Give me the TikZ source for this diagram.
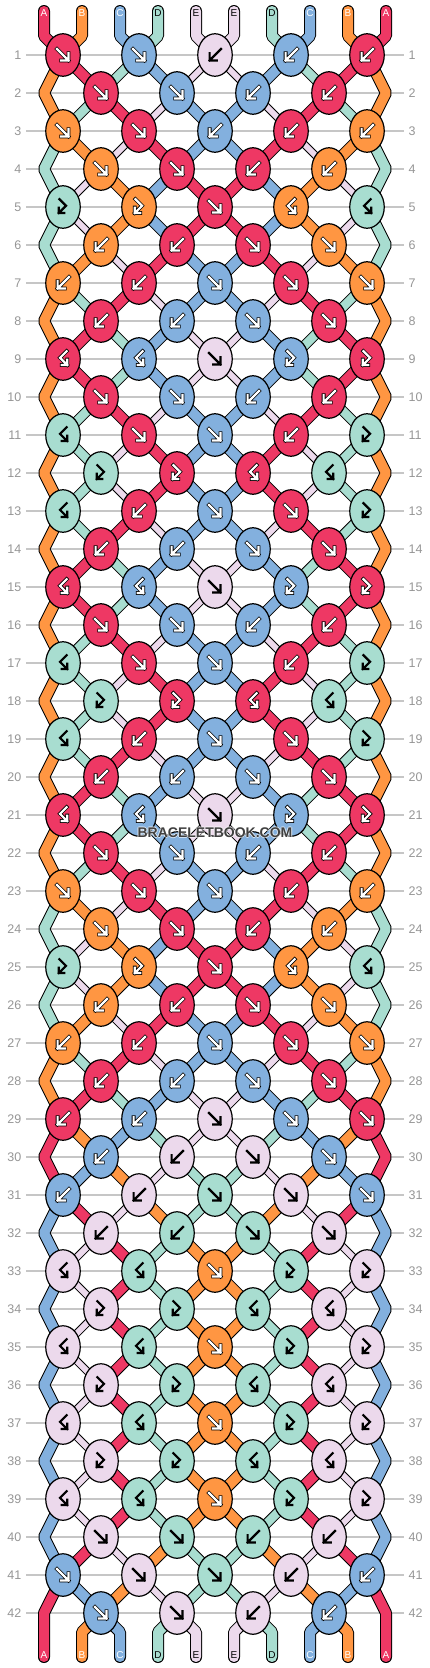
\documentclass[tikz,border=0pt]{standalone}
\usepackage{fontspec}
\setmainfont{Liberation Sans}
\usetikzlibrary{shapes.geometric}
\definecolor{colA}{RGB}{238,56,100}
\definecolor{colB}{RGB}{255,150,66}
\definecolor{colC}{RGB}{131,176,222}
\definecolor{colD}{RGB}{168,221,208}
\definecolor{colE}{RGB}{236,217,236}
\definecolor{rowgray}{RGB}{150,150,150}
\definecolor{linegray}{RGB}{198,198,198}
\definecolor{wmgray}{RGB}{64,64,64}
% string arrangements
\def\StA{A,B,C,D,E,E,D,C,B,A}
\def\StB{B,A,D,C,E,E,C,D,A,B}
\def\StC{B,D,A,E,C,C,E,A,D,B}
\def\StD{D,B,E,A,C,C,A,E,B,D}
\def\StE{D,E,B,C,A,A,C,B,E,D}
\def\StF{B,D,E,A,C,C,A,E,D,B}
\def\StG{A,C,B,E,D,D,E,B,C,A}
\def\StH{C,A,E,B,D,D,B,E,A,C}
\def\StI{C,E,A,D,B,B,D,A,E,C}
% knot rows
\def\kra{A/f,C/f,E/b,C/b,A/b}
\def\krb{A/f,C/f,C/b,A/b}
\def\krc{B/f,A/f,C/b,A/b,B/b}
\def\krd{B/f,A/f,A/b,B/b}
\def\kre{D/fb,B/fb,A/f,B/bf,D/bf}
\def\krf{B/b,A/b,A/f,B/f}
\def\krg{B/b,A/b,C/f,A/f,B/f}
\def\krh{A/b,C/b,C/f,A/f}
\def\kri{A/bf,C/bf,E/f,C/fb,A/fb}
\def\krj{D/bf,A/f,C/f,A/b,D/fb}
\def\krk{D/fb,A/fb,A/bf,D/bf}
\def\krl{D/bf,A/b,C/f,A/f,D/fb}
\def\krm{B/f,A/f,C/f,A/b,B/b}
\def\krn{A/b,C/b,E/f,C/f,A/f}
\def\kro{C/b,E/b,E/f,C/f}
\def\krp{C/b,E/b,D/f,E/f,C/f}
\def\krq{E/b,D/b,D/f,E/f}
\def\krr{E/bf,D/bf,B/f,D/fb,E/fb}
\def\krs{E/fb,D/fb,D/bf,E/bf}
\def\krt{E/f,D/f,D/b,E/b}
\def\kru{C/f,E/f,D/f,E/b,C/b}
\def\krv{C/f,E/f,E/b,C/b}
\def\knotrows{1/\kra,2/\krb,3/\krc,4/\krd,5/\kre,6/\krf,7/\krg,8/\krh,9/\kri,10/\krb,11/\krj,12/\krk,13/\krl,14/\krh,15/\kri,16/\krb,17/\krj,18/\krk,19/\krl,20/\krh,21/\kri,22/\krb,23/\krm,24/\krd,25/\kre,26/\krf,27/\krg,28/\krh,29/\krn,30/\kro,31/\krp,32/\krq,33/\krr,34/\krs,35/\krr,36/\krs,37/\krr,38/\krs,39/\krr,40/\krt,41/\kru,42/\krv}
\def\firstof#1,#2\relax{#1}
\newcommand\glyphf[1]{\draw[#1] (-5,-5) -- (4.5,4.5) (4.5,-1.5) -- (4.5,4.5) -- (-1.5,4.5);}
\newcommand\glyphb[1]{\draw[#1] (5,-5) -- (-4.5,4.5) (-4.5,-1.5) -- (-4.5,4.5) -- (1.5,4.5);}
\newcommand\glyphfb[1]{\draw[#1] (-3,-6.5) -- (2.5,-1) -- (-3.5,5) (-3.5,0.5) -- (-3.5,5) -- (1,5);}
\newcommand\glyphbf[1]{\draw[#1] (3,-6.5) -- (-2.5,-1) -- (3.5,5) (3.5,0.5) -- (3.5,5) -- (-1,5);}
\tikzset{
 knot/.style={ellipse, draw=black, line width=1.2pt, fill=col#1, minimum width=34.5pt, minimum height=42.5pt, inner sep=0pt},
 sout/.style={line width=12pt, draw=black, line join=bevel},
 sin/.style={line width=10pt, draw=col#1, line join=bevel},
 ioutA/.style={line width=12pt, draw=black}, iinA/.style={line width=10pt, draw=colA},
 ioutB/.style={line width=12pt, draw=black}, iinB/.style={line width=10pt, draw=colB},
 ioutC/.style={line width=12pt, draw=black}, iinC/.style={line width=10pt, draw=colC},
 ioutD/.style={line width=10.5pt, draw=black}, iinD/.style={line width=8.5pt, draw=colD},
 ioutE/.style={line width=8pt, draw=black}, iinE/.style={line width=6pt, draw=colE},
 olA/.style={draw=black,line width=3.8pt,line cap=rect,line join=miter},
 olB/.style={olA}, olC/.style={olA},
 olD/.style={draw=none}, olE/.style={draw=none},
 arA/.style={draw=white,line width=2.2pt,line cap=rect,line join=miter},
 arB/.style={arA}, arC/.style={arA},
 arD/.style={draw=black,line width=2.2pt,line cap=rect,line join=miter},
 arE/.style={arD},
 labA/.style={text=white}, labB/.style={text=white}, labC/.style={text=white},
 labD/.style={text=black}, labE/.style={text=black},
 strlab/.style={font=\fontsize{10}{10}\selectfont, inner sep=0pt},
 rowlab/.style={text=rowgray, font=\fontsize{12.5}{13}\selectfont, inner sep=0pt},
 gridline/.style={draw=linegray, line width=1.2pt},
}
\begin{document}
\begin{tikzpicture}[x=1pt,y=-1pt]
\useasboundingbox (0,0) rectangle (430,1668);
\fill[white] (0,0) rectangle (430,1668);
% arrangements after each row
\foreach \r/\st in {0/\StA,1/\StB,2/\StC,3/\StD,4/\StE,5/\StE,6/\StD,7/\StC,8/\StB,9/\StB,10/\StC,11/\StF,12/\StF,13/\StC,14/\StB,15/\StB,16/\StC,17/\StF,18/\StF,19/\StC,20/\StB,21/\StB,22/\StC,23/\StD,24/\StE,25/\StE,26/\StD,27/\StC,28/\StB,29/\StA,30/\StG,31/\StH,32/\StI,33/\StI,34/\StI,35/\StI,36/\StI,37/\StI,38/\StI,39/\StI,40/\StH,41/\StG,42/\StA}{%
  \expandafter\xdef\csname ar\r\endcsname{\st}}
% row lines and labels
\foreach \r in {1,...,42}{
  \pgfmathsetmacro\ky{55+38*(\r-1)}
  \coordinate (gl-\r) at (26,\ky);
  \coordinate (gr-\r) at (404,\ky);
  \draw[gridline] (gl-\r) -- (gr-\r);
  \node[rowlab, anchor=east] (rl-\r) at (21.5,\ky) {\r};
  \node[rowlab, anchor=west] (rr-\r) at (408.5,\ky) {\r};
}
% knot positions
\foreach \r/\kk in \knotrows {
  \edef\curK{\kk}
  \pgfmathsetmacro\ky{55+38*(\r-1)}
  \ifodd\r\relax \def\kx{63}\else \def\kx{101}\fi
  \foreach \cl/\tp [count=\j from 0] in \curK {
    \coordinate (k-\r-\j) at ({\kx+76*\j},\ky);
  }
}
% top and bottom string ends
\foreach \cl [count=\i from 0] in \StA {
  \coordinate (t\i) at ({44+38*\i},11);
  \coordinate (tb\i) at ({44+38*\i},36);
  \coordinate (bb\i) at ({44+38*\i},1632);
  \coordinate (be\i) at ({44+38*\i},1657);
  \pgfmathtruncatemacro\ja{floor(\i/2)}
  \draw[sout, line cap=round] (t\i) -- (tb\i) -- (k-1-\ja);
  \draw[sin=\cl, line cap=round] (t\i) -- (tb\i) -- (k-1-\ja);
  \ifnum\i>0 \ifnum\i<9
    \pgfmathtruncatemacro\jb{floor((\i-1)/2)}
    \draw[sout, line cap=round] (k-42-\jb) -- (bb\i) -- (be\i);
    \draw[sin=\cl, line cap=round] (k-42-\jb) -- (bb\i) -- (be\i);
  \fi\fi
}
% inner segments
\foreach \r in {1,...,41}{
  \edef\curS{\csname ar\r\endcsname}
  \pgfmathtruncatemacro\rn{\r+1}
  \foreach \cl [count=\i from 0] in \curS {
    \ifnum\i>0 \ifnum\i<9
      \ifodd\r\relax
        \pgfmathtruncatemacro\ja{floor(\i/2)}
        \pgfmathtruncatemacro\jb{floor((\i-1)/2)}
      \else
        \pgfmathtruncatemacro\ja{floor((\i-1)/2)}
        \pgfmathtruncatemacro\jb{floor(\i/2)}
      \fi
      \draw[iout\cl] (k-\r-\ja) -- (k-\rn-\jb);
      \draw[iin\cl] (k-\r-\ja) -- (k-\rn-\jb);
    \fi\fi
  }
}
% edge strings
\foreach \r in {2,4,...,42}{
  \pgfmathsetmacro\ky{55+38*(\r-1)}
  \edef\curS{\csname ar\r\endcsname}
  \edef\ec{\expandafter\firstof\curS\relax}
  \pgfmathtruncatemacro\rp{\r-1}
  \pgfmathtruncatemacro\rn{\r+1}
  \coordinate (eL-\r) at (44,\ky);
  \coordinate (eR-\r) at (386,\ky);
  \ifnum\r<42
    \draw[sout] (k-\rp-0) -- (eL-\r) -- (k-\rn-0);
    \draw[sin=\ec] (k-\rp-0) -- (eL-\r) -- (k-\rn-0);
    \draw[sout] (k-\rp-4) -- (eR-\r) -- (k-\rn-4);
    \draw[sin=\ec] (k-\rp-4) -- (eR-\r) -- (k-\rn-4);
  \else
    \draw[sout, line cap=round] (k-\rp-0) -- (eL-\r) -- (be0);
    \draw[sin=\ec, line cap=round] (k-\rp-0) -- (eL-\r) -- (be0);
    \draw[sout, line cap=round] (k-\rp-4) -- (eR-\r) -- (be9);
    \draw[sin=\ec, line cap=round] (k-\rp-4) -- (eR-\r) -- (be9);
  \fi
}
% string labels
\foreach \cl [count=\i from 0] in \StA {
  \node[strlab, lab\cl] (tl\i) at ({44+38*\i},13) {\cl};
  \node[strlab, lab\cl] (bl\i) at ({44+38*\i},1655) {\cl};
}
% knots
\foreach \r/\kk in \knotrows {
  \edef\curK{\kk}
  \foreach \cl/\tp [count=\j from 0] in \curK {
    \node[knot=\cl] (K-\r-\j) at (k-\r-\j) {};
    \begin{scope}[shift={(K-\r-\j.center)}, scale=1.2]
      \csname glyph\tp\endcsname{ol\cl}
      \csname glyph\tp\endcsname{ar\cl}
    \end{scope}
  }
}
% watermark
\foreach \dx/\dy in {-1/0,1/0,0/-1,0/1}{
  \node[font=\bfseries\fontsize{14}{14}\selectfont, text=white, opacity=0.6] at ({215+\dx},{833+\dy}) {BRACELETBOOK.COM};
}
\node[font=\bfseries\fontsize{14}{14}\selectfont, text=wmgray] (wm) at (215,833) {BRACELETBOOK.COM};
\end{tikzpicture}
\end{document}
